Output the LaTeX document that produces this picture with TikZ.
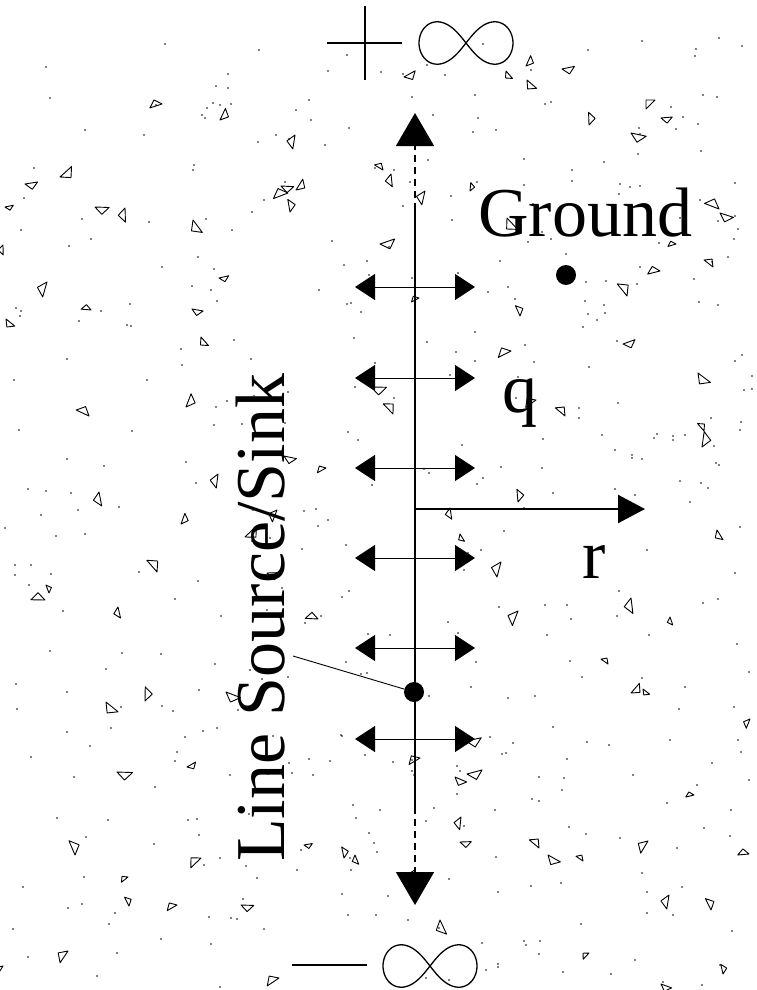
\documentclass[tikz,border=0pt]{standalone}
\usepackage{fontspec}
\setmainfont{Liberation Serif}
\usetikzlibrary{arrows.meta}
\newcommand\lblfont{\fontsize{70}{80}\selectfont}
\begin{document}
\begin{tikzpicture}[x=1pt,y=-1pt,
  dbl/.style={line width=1pt,{Triangle[length=20pt,width=26pt]}-{Triangle[length=20pt,width=26pt]}},
  vdash/.style={line width=1.5pt,dash pattern=on 7pt off 5pt},
  endtip/.style={-{Triangle[length=33pt,width=38pt]}},
  dotn/.style={circle,fill=black,inner sep=0pt,minimum size=20pt},
  lbl/.style={font=\lblfont,inner sep=0pt},
  thinline/.style={line width=1.3pt},
  tri/.style={line width=0.9pt,line join=round},
  infsym/.pic={\draw[line width=1.3pt] plot[domain=0:360,samples=120,smooth cycle]
      ({47*cos(\x)/(1+sin(\x)^2)},{60*sin(\x)*cos(\x)/(1+sin(\x)^2)});}
]
\useasboundingbox (0,0) rectangle (756,990);
\fill[white] (0,0) rectangle (756,990);

% soil texture
\pgfmathsetseed{4242}
\foreach \k in {1,...,115}{
  \pgfmathsetmacro\tx{random(3,750)}
  \pgfmathsetmacro\ty{random(60,985)}
  \pgfmathsetmacro\ta{random(0,359)}
  \pgfmathsetmacro\ts{random(6,11)}
  \draw[tri,rotate around={\ta:(\tx,\ty)}] (\tx,\ty) -- ++(\ts,0) -- ++(0,-\ts) -- cycle;
}
\foreach \k in {1,...,450}{
  \pgfmathsetmacro\dx{random(2,754)}
  \pgfmathsetmacro\dy{random(30,988)}
  \fill (\dx,\dy) circle (0.8pt);
}

% +infinity and -infinity
\coordinate (pl) at (327,43);
\coordinate (pr) at (402,43);
\coordinate (pt) at (365,6);
\coordinate (pb) at (365,80);
\draw[thinline] (pl) -- (pr) (pt) -- (pb);
\pic at (466,43) {infsym};
\coordinate (ml) at (292,965);
\coordinate (mr) at (367,965);
\draw[thinline] (ml) -- (mr);
\pic at (430,966) {infsym};

% vertical line source
\coordinate (ttop) at (415,113);
\coordinate (vs1) at (415,210);
\coordinate (vs2) at (415,807);
\coordinate (tbot) at (415,905);
\draw[vdash,endtip] (vs1) -- (ttop);
\draw[vdash,endtip] (vs2) -- (tbot);
\draw[line width=2pt] (vs1) -- (vs2);

% flux arrows
\foreach \i/\yy in {1/287,2/378,3/468,4/558,5/648,6/739}{
  \coordinate (l\i) at (355,\yy);
  \coordinate (r\i) at (475,\yy);
  \draw[dbl] (l\i) -- (r\i);
}

% radial arrow r
\coordinate (rorig) at (415,509);
\coordinate (rtip) at (645,509);
\draw[line width=2.5pt,-{Triangle[length=27pt,width=28pt]}] (rorig) -- (rtip);

% dots and leader
\node[dotn] (gnd) at (566,275) {};
\node[dotn] (src) at (414,692) {};
\coordinate (lead) at (293,656);
\draw[line width=0.9pt] (lead) -- (src);

% labels
\node[lbl,anchor=base west] (tground) at (478,236) {Ground};
\node[lbl,anchor=base west] (tq) at (502,412) {q};
\node[lbl,anchor=base west] (tr) at (582,578) {r};
\node[lbl,anchor=base west,rotate=90] (tline) at (284,862) {Line Source/Sink};
\end{tikzpicture}
\end{document}
